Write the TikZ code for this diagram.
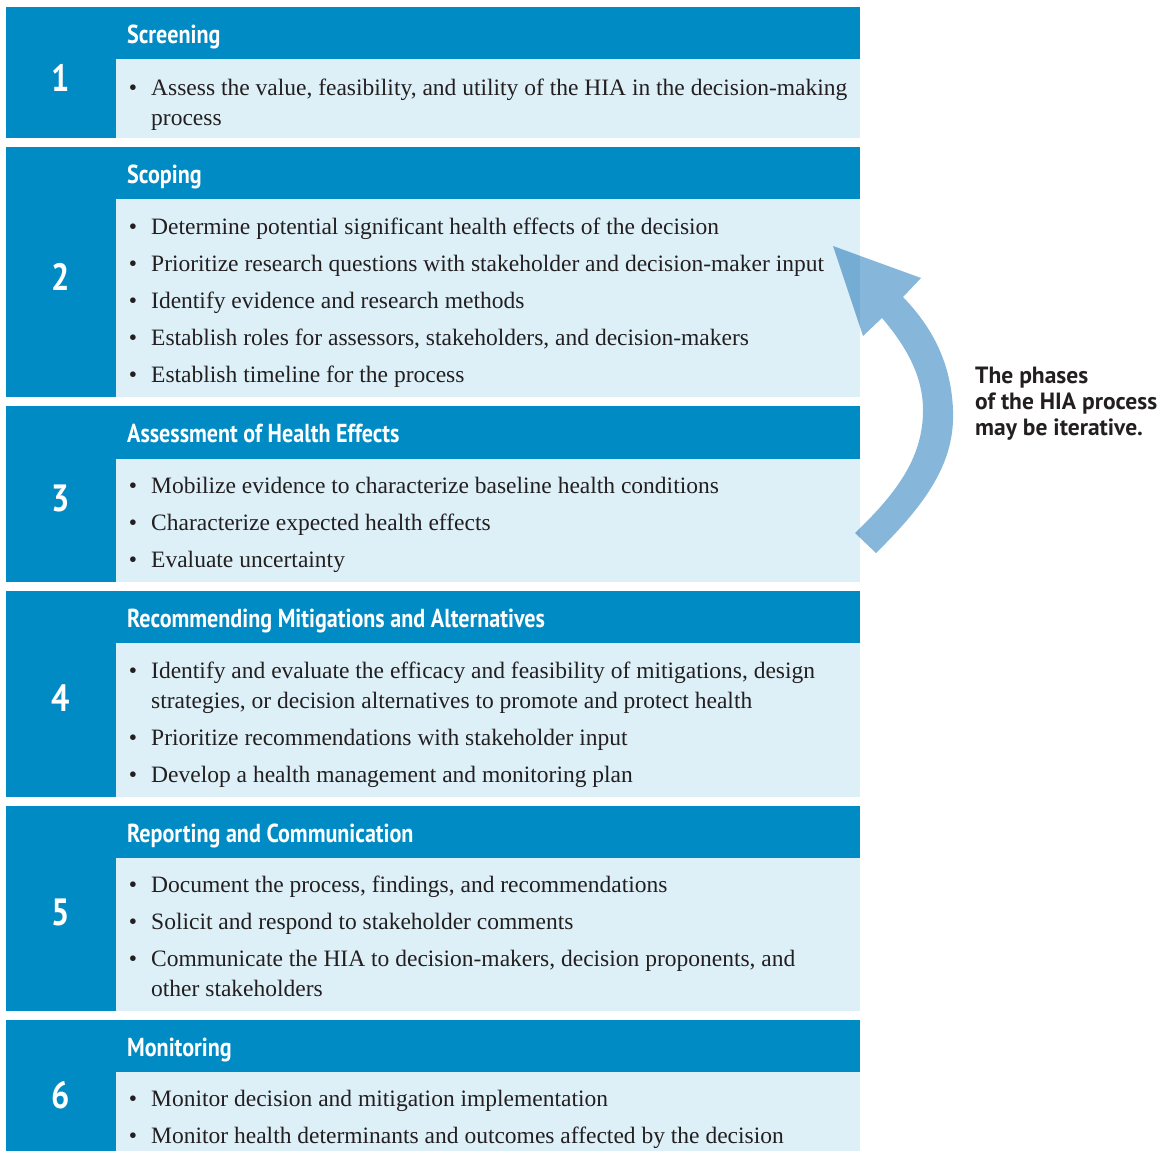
\documentclass[tikz,border=0pt]{standalone}
\usepackage{fontspec}
\setmainfont{Liberation Serif}
\newfontfamily\hdfamily[FakeStretch=0.85]{PT Sans}
\newfontfamily\notefamily{PT Sans}
\definecolor{hdblue}{RGB}{0,139,196}
\definecolor{bodyblue}{RGB}{221,240,248}
\definecolor{arrowblue}{RGB}{134,183,219}
\definecolor{txt}{RGB}{35,31,32}
\begin{document}
\begin{tikzpicture}[x=1pt,y=-1pt,
  hd/.style={anchor=base west, inner sep=0pt, text=white, font=\hdfamily\bfseries\fontsize{26}{26}\selectfont},
  num/.style={inner sep=0pt, text=white, font=\hdfamily\bfseries\fontsize{38}{38}\selectfont},
  item/.style={anchor=base west, inner sep=0pt, text=txt, align=left, font=\fontsize{23.5}{30}\selectfont},
  dot/.style={anchor=base, inner sep=0pt, text=txt, font=\fontsize{23.5}{30}\selectfont},
  note/.style={anchor=base west, inner sep=0pt, text=txt, align=left, font=\notefamily\bfseries\fontsize{23.5}{26}\selectfont},
  hdband/.style={fill=hdblue},
  bodyband/.style={fill=bodyblue}]
\useasboundingbox (0,0) rectangle (1161,1151);
% blocks
\foreach \t/\h/\b in {7/59/138, 147/199/397, 406/459/582, 591/643/797, 806/858/1011, 1020/1072/1151}{
  \path[hdband] (6,\t) rectangle (860,\b);
  \path[bodyband] (116,\h) rectangle (860,\b);
}
% numbers
\node[num] (n1) at (61,78) {1};
\node[num] (n2) at (61,277) {2};
\node[num] (n3) at (61,498) {3};
\node[num] (n4) at (61,698) {4};
\node[num] (n5) at (61,912) {5};
\node[num] (n6) at (61,1095) {6};
% headers
\node[hd] (h1) at (127,43.5) {Screening};
\node[hd] (h2) at (127,183.5) {Scoping};
\node[hd] (h3) at (127,442.5) {Assessment of Health Effects};
\node[hd] (h4) at (127,627.5) {Recommending Mitigations and Alternatives};
\node[hd] (h5) at (127,842.5) {Reporting and Communication};
\node[hd] (h6) at (127,1056.5) {Monitoring};
% block 1 (multi-line nodes: base = last line)
\node[dot] (d11) at (133,95) {\textbullet};
\node[item] (i11) at (151,125) {Assess the value, feasibility, and utility of the HIA in the decision-making\\process};
% block 2
\node[dot] (d21) at (133,234) {\textbullet};
\node[item] (i21) at (151,234) {Determine potential significant health effects of the decision};
\node[dot] (d22) at (133,271) {\textbullet};
\node[item] (i22) at (151,271) {Prioritize research questions with stakeholder and decision-maker input};
\node[dot] (d23) at (133,308) {\textbullet};
\node[item] (i23) at (151,308) {Identify evidence and research methods};
\node[dot] (d24) at (133,345) {\textbullet};
\node[item] (i24) at (151,345) {Establish roles for assessors, stakeholders, and decision-makers};
\node[dot] (d25) at (133,382) {\textbullet};
\node[item] (i25) at (151,382) {Establish timeline for the process};
% block 3
\node[dot] (d31) at (133,493) {\textbullet};
\node[item] (i31) at (151,493) {Mobilize evidence to characterize baseline health conditions};
\node[dot] (d32) at (133,530) {\textbullet};
\node[item] (i32) at (151,530) {Characterize expected health effects};
\node[dot] (d33) at (133,567) {\textbullet};
\node[item] (i33) at (151,567) {Evaluate uncertainty};
% block 4
\node[dot] (d41) at (133,678) {\textbullet};
\node[item] (i41) at (151,708) {Identify and evaluate the efficacy and feasibility of mitigations, design\\strategies, or decision alternatives to promote and protect health};
\node[dot] (d42) at (133,745) {\textbullet};
\node[item] (i42) at (151,745) {Prioritize recommendations with stakeholder input};
\node[dot] (d43) at (133,782) {\textbullet};
\node[item] (i43) at (151,782) {Develop a health management and monitoring plan};
% block 5
\node[dot] (d51) at (133,892) {\textbullet};
\node[item] (i51) at (151,892) {Document the process, findings, and recommendations};
\node[dot] (d52) at (133,929) {\textbullet};
\node[item] (i52) at (151,929) {Solicit and respond to stakeholder comments};
\node[dot] (d53) at (133,966) {\textbullet};
\node[item] (i53) at (151,996) {Communicate the HIA to decision-makers, decision proponents, and\\other stakeholders};
% block 6
\node[dot] (d61) at (133,1106) {\textbullet};
\node[item] (i61) at (151,1106) {Monitor decision and mitigation implementation};
\node[dot] (d62) at (133,1143) {\textbullet};
\node[item] (i62) at (151,1143) {Monitor health determinants and outcomes affected by the decision};
% iterative arrow
\begin{scope}[blend mode=multiply]
\fill[arrowblue] (876,553) .. controls (930,500) and (955,460) .. (953,410)
  .. controls (951,360) and (930,325) .. (903,297) -- (921,278) -- (833,246)
  -- (863,336) -- (882,318) .. controls (905,345) and (923,375) .. (923,410)
  .. controls (923,455) and (900,490) .. (855,533) -- cycle;
\end{scope}
% note
\node[note] (note) at (975,435) {The phases\\of the HIA process\\may be iterative.};
\end{tikzpicture}
\end{document}
